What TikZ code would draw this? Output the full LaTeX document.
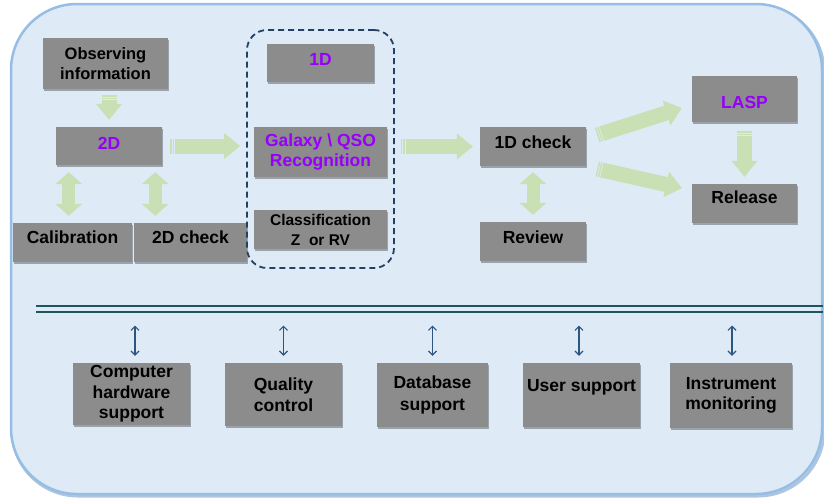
\documentclass[tikz,border=0pt]{standalone}
\usepackage{fontspec}
\setmainfont{Liberation Sans}
\usetikzlibrary{arrows.meta,shadows,calc}

\definecolor{panelfill}{RGB}{222,234,246}
\definecolor{paneledge}{RGB}{150,190,228}
\definecolor{panelshade}{RGB}{105,150,200}
\definecolor{boxgray}{RGB}{140,140,140}
\definecolor{flowgreen}{RGB}{200,224,180}
\definecolor{stagepurple}{RGB}{150,0,250}
\definecolor{groupblue}{RGB}{35,65,100}
\definecolor{busteal}{RGB}{30,85,95}
\definecolor{linkblue}{RGB}{45,85,130}

% raise a one-line label without changing its reported size
\newcommand{\nudge}[2]{\raisebox{#1}[\height][\depth]{#2}}

\begin{document}
\begin{tikzpicture}[x=1pt,y=-1pt,
  box/.style={fill=boxgray, inner sep=0pt, align=center,
    font=\fontsize{17.5}{20.5}\selectfont\bfseries,
    drop shadow={shadow xshift=1.2pt, shadow yshift=-1.8pt, opacity=0.3, fill=black}},
  stage/.style={box, text=stagepurple},
  flow/.style={draw=flowgreen, line width=15pt,
    -{Triangle[width=26pt, length=16pt, line width=0pt]}},
  flowboth/.style={draw=flowgreen, line width=13pt,
    {Triangle[width=27pt, length=12pt, line width=0pt]}-{Triangle[width=27pt, length=12pt, line width=0pt]}},
  stripes/.style={draw=flowgreen, line width=15pt,
    dash pattern=on 1.5pt off 0.9pt on 1.5pt off 0.9pt on 0pt off 900pt},
  link/.style={draw=linkblue, line width=1.2pt,
    {Straight Barb[length=4pt, width=8pt]}-{Straight Barb[length=4pt, width=8pt]}},
  bus/.style={draw=busteal, line width=2pt},
  group/.style={draw=groupblue, line width=1.8pt, dash pattern=on 6pt off 4pt,
    rounded corners=20pt, inner sep=0pt},
  ]
\useasboundingbox (0,0) rectangle (824,499);

% rounded panel behind everything
\path[draw=panelshade, line width=3pt, opacity=0.55, rounded corners=66pt]
  (12,6) rectangle (824,496);
\path[fill=panelfill, draw=paneledge, line width=2.5pt, rounded corners=66pt]
  (11,4) rectangle (822,494);

% 2D stage
\node[box, minimum width=125pt, minimum height=51pt,
  font=\fontsize{16.5}{19.5}\selectfont\bfseries] (obs) at (105.5,63.5) {Observing\\information};
\node[stage, minimum width=106pt, minimum height=38pt] (d2) at (109,146) {\nudge{3pt}{2D}};
\node[box, minimum width=119pt, minimum height=39pt] (cal) at (72.5,242.5) {\nudge{5pt}{Calibration}};
\node[box, minimum width=113pt, minimum height=39pt] (chk2) at (190.5,242.5) {\nudge{5pt}{2D check}};

% 1D stage
\node[stage, minimum width=107pt, minimum height=38pt] (d1) at (320.5,63) {\nudge{4pt}{1D}};
\node[stage, minimum width=133pt, minimum height=50pt] (gq) at (320.5,152)
  {Galaxy \textbackslash\ QSO\\Recognition};
\node[box, minimum width=133pt, minimum height=39pt,
  font=\fontsize{15.5}{19}\selectfont\bfseries] (cls) at (320.5,229.5)
  {Classification\\[1pt]Z\ \ or RV};
\node[group, minimum width=147pt, minimum height=238pt] (grp) at (320.5,149) {};

% checking and release
\node[box, minimum width=106pt, minimum height=39pt] (chk1) at (533,146.5) {\nudge{4.5pt}{1D check}};
\node[box, minimum width=106pt, minimum height=39pt] (rev) at (533,241.5) {\nudge{4.5pt}{Review}};
\node[stage, minimum width=105pt, minimum height=46pt] (lasp) at (744.5,99) {\nudge{-3pt}{LASP}};
\node[box, minimum width=105pt, minimum height=39pt] (rel) at (744.5,203.5) {\nudge{6.5pt}{Release}};

% support services
\node[box, minimum width=117pt, minimum height=62pt] (cmp) at (131.5,394) {Computer\\hardware\\support};
\node[box, minimum width=117pt, minimum height=63pt] (qc) at (283.5,394.5) {Quality\\[1pt]control};
\node[box, minimum width=111pt, minimum height=64pt] (db) at (432.5,395) {Database\\[1pt]support};
\node[box, minimum width=117pt, minimum height=64pt] (us) at (581.5,395) {\nudge{7.5pt}{User support}};
\node[box, minimum width=122pt, minimum height=65pt] (im) at (731,395.5) {Instrument\\monitoring};

% separating double rule
\coordinate (busA) at (36,305.5);
\coordinate (busB) at (36,311.5);
\coordinate (busEnd) at (823,0);
\draw[bus] (busA) -- (busA -| busEnd);
\draw[bus] (busB) -- (busB -| busEnd);

% flow arrows (striped tails)
\draw[stripes, shorten <=6pt] (obs.south -| d2.north) -- (d2.north);
\draw[flow, shorten <=10.8pt, shorten >=7pt] (obs.south -| d2.north) -- (d2.north);

\draw[stripes, shorten <=8pt] (d2.east) -- (d2.east -| grp.west);
\draw[flow, shorten <=12.8pt, shorten >=6pt] (d2.east) -- (d2.east -| grp.west);

\draw[stripes, shorten <=6pt] (chk1.west -| grp.east) -- (chk1.west);
\draw[flow, shorten <=10.8pt, shorten >=7pt] (chk1.west -| grp.east) -- (chk1.west);

\coordinate (upA) at ($(chk1.east)+(11,-11.5)$);
\coordinate (upB) at ($(lasp.west)+(-10,9)$);
\draw[stripes] (upA) -- (upB);
\draw[flow, shorten <=4.8pt] (upA) -- (upB);

\coordinate (dnA) at ($(chk1.east)+(11,22.5)$);
\coordinate (dnB) at ($(rel.west)+(-10,-15.5)$);
\draw[stripes] (dnA) -- (dnB);
\draw[flow, shorten <=4.8pt] (dnA) -- (dnB);

\draw[stripes, shorten <=9pt] (lasp.south) -- (rel.north);
\draw[flow, shorten <=13.8pt, shorten >=7pt] (lasp.south) -- (rel.north);

% two-way flow arrows
\coordinate (calTop) at ($(d2.south west)+(13,0)$);
\draw[flowboth, shorten <=7pt, shorten >=7pt] (calTop) -- (calTop |- cal.north);
\coordinate (chkTop) at ($(d2.south east)+(-7,0)$);
\draw[flowboth, shorten <=7pt, shorten >=7pt] (chkTop) -- (chkTop |- chk2.north);
\draw[flowboth, shorten <=6pt, shorten >=7pt] (chk1.south) -- (rev.north);

% links from the services to the rule
\coordinate (cmpTop) at ($(cmp.north)+(3.5,0)$);
\coordinate (usTop) at ($(us.north)+(-2.5,0)$);
\coordinate (imTop) at ($(im.north)+(1,0)$);
\draw[link, shorten <=14pt, shorten >=7pt] (cmpTop |- busB) -- (cmpTop);
\draw[link, shorten <=14pt, shorten >=7pt] (qc.north |- busB) -- (qc.north);
\draw[link, shorten <=14pt, shorten >=7pt] (db.north |- busB) -- (db.north);
\draw[link, shorten <=14pt, shorten >=7pt] (usTop |- busB) -- (usTop);
\draw[link, shorten <=14pt, shorten >=7pt] (imTop |- busB) -- (imTop);
\end{tikzpicture}
\end{document}
